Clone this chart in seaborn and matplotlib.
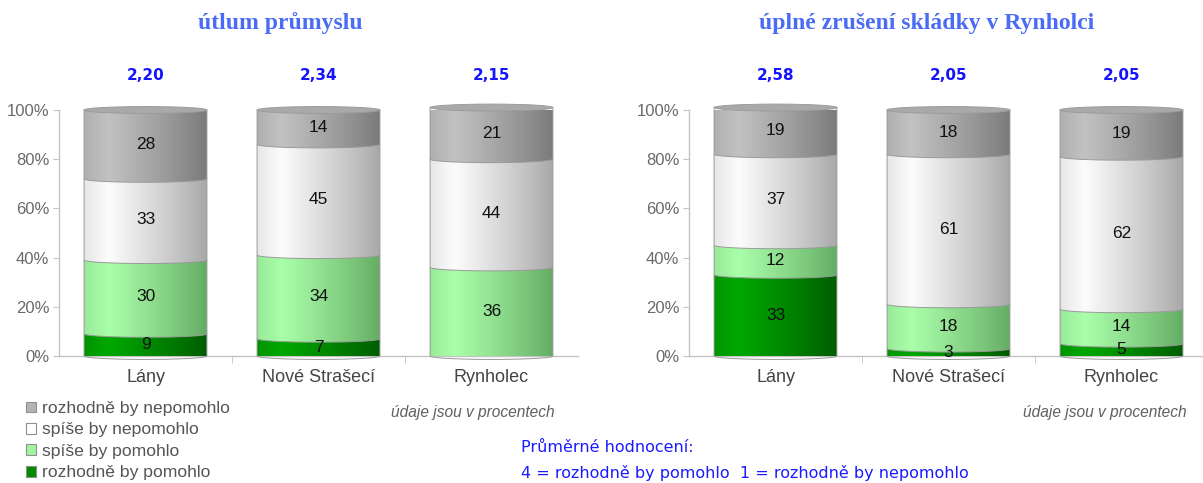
import numpy as np
import pandas as pd
import matplotlib
matplotlib.use("Agg")
import matplotlib.pyplot as plt
import matplotlib.colors as mcolors
from matplotlib.path import Path
from matplotlib.patches import PathPatch, Ellipse, Patch
import seaborn as sns

# ---------------- data ----------------
obce = ["Lány", "Nové Strašecí", "Rynholec"]
urovne = ["rozhodně by pomohlo", "spíše by pomohlo", "spíše by nepomohlo", "rozhodně by nepomohlo"]

utlum_rozhodne_pomohlo = [9, 7, 0]
utlum_spise_pomohlo = [30, 34, 36]
utlum_spise_nepomohlo = [33, 45, 44]
utlum_rozhodne_nepomohlo = [28, 14, 21]
utlum_prumer = ["2,20", "2,34", "2,15"]

skladka_rozhodne_pomohlo = [33, 3, 5]
skladka_spise_pomohlo = [12, 18, 14]
skladka_spise_nepomohlo = [37, 61, 62]
skladka_rozhodne_nepomohlo = [19, 18, 19]
skladka_prumer = ["2,58", "2,05", "2,05"]

titles = ["útlum průmyslu", "úplné zrušení skládky v Rynholci"]
y_ticks = [0, 20, 40, 60, 80, 100]
y_tick_labels = ["0%", "20%", "40%", "60%", "80%", "100%"]
note = "údaje jsou v procentech"
avg_title = "Průměrné hodnocení:"
avg_scale = "4 = rozhodně by pomohlo  1 = rozhodně by nepomohlo"

# ---------------- styles ----------------
sns.set_style("white")
plt.rcParams["font.family"] = ["Liberation Sans", "DejaVu Sans"]

flat_colors = ["#008c00", "#a0f5a0", "#ffffff", "#b4b4b4"]
grad_colors = [("#00a800", "#005c00"),
               ("#aaffaa", "#64ac64"),
               ("#fcfcfc", "#a8a8a8"),
               ("#c2c2c2", "#7a7a7a")]

W, H = 1203, 483
fig = plt.figure(figsize=(W / 100, H / 100), dpi=100)
ax1 = fig.add_axes([59 / W, 1 - 356 / H, 519 / W, 246 / H])
ax2 = fig.add_axes([689 / W, 1 - 356 / H, 519 / W, 246 / H])

E = 1.4  # half height of the cylinder ellipses (data units)


def gradient(light, dark):
    t = np.linspace(0, 1, 160)
    f = np.where(t < 0.2, 0.72 + 0.28 * t / 0.2, 1 - (t - 0.2) / 0.8)
    f = np.clip(f, 0, 1) ** 0.9
    l = np.array(mcolors.to_rgb(light))
    d = np.array(mcolors.to_rgb(dark))
    rgb = d[None, :] + f[:, None] * (l - d)[None, :]
    return rgb[None, :, :]


def segment_path(x0, x1, y0, y1):
    xc, r = (x0 + x1) / 2, (x1 - x0) / 2
    th = np.linspace(np.pi, 2 * np.pi, 40)
    arc = np.column_stack([xc + r * np.cos(th), y0 + E * np.sin(th)])
    verts = np.vstack([[[x0, y1], [x0, y0]], arc, [[x1, y1], [x0, y1]]])
    codes = [Path.MOVETO] + [Path.LINETO] * (len(verts) - 2) + [Path.CLOSEPOLY]
    return Path(verts, codes)


def draw_panel(ax, series, means):
    bottom = np.zeros(len(obce))
    for k, vals in enumerate(series):
        vals = np.array(vals, dtype=float)
        sns.barplot(x=obce, y=vals, bottom=bottom.copy(), order=obce,
                    color=flat_colors[k], width=0.71, linewidth=0, ax=ax)
        cont = ax.containers[-1]
        for bar, v in zip(cont, vals):
            bar.set_zorder(1)
            if v <= 0:
                continue
            x0 = bar.get_x()
            x1 = x0 + bar.get_width()
            y0 = bar.get_y()
            y1 = y0 + bar.get_height()
            pp = PathPatch(segment_path(x0, x1, y0, y1), facecolor="none",
                           edgecolor="#9a9a9a", lw=0.7, zorder=3 + k + 0.5)
            pp.set_clip_on(False)
            ax.add_patch(pp)
            im = ax.imshow(gradient(*grad_colors[k]), extent=(x0, x1, y0 - E, y1),
                           aspect="auto", interpolation="bilinear", origin="lower",
                           zorder=3 + k)
            im.set_clip_path(pp)
            im.set_clip_box(None)
            ax.text((x0 + x1) / 2, y0 + v / 2, f"{int(v)}", ha="center", va="center",
                    fontsize=12.5, color="#111111", zorder=20)
        bottom += vals
    # top caps
    for bar, top in zip(ax.containers[-1], bottom):
        xc = bar.get_x() + bar.get_width() / 2
        cap = Ellipse((xc, top), bar.get_width(), 2 * E, facecolor="#a9a9a9",
                      edgecolor="#9c9c9c", lw=0.7, zorder=12)
        cap.set_clip_on(False)
        ax.add_patch(cap)
    for i, m in enumerate(means):
        ax.text(i, 114.0, m, ha="center", va="center", fontsize=11,
                fontweight="bold", color="#1414ff", family="DejaVu Sans")

    ax.set_xlim(-0.5, 2.5)
    ax.set_ylim(0, 100)
    ax.set_yticks(y_ticks, y_tick_labels)
    ax.set_xticks(range(len(obce)), obce)
    ax.set_xticks([0.5, 1.5], minor=True)
    ax.tick_params(axis="y", which="major", length=4, color="#c4c4c4",
                   labelsize=12, labelcolor="#6a6a6a", pad=3, left=True)
    ax.tick_params(axis="x", which="major", length=0, labelsize=13,
                   labelcolor="#444444", pad=9)
    ax.tick_params(axis="x", which="minor", length=5, color="#c4c4c4", bottom=True)
    for s in ["top", "right"]:
        ax.spines[s].set_visible(False)
    for s in ["left", "bottom"]:
        ax.spines[s].set_color("#c4c4c4")
        ax.spines[s].set_linewidth(1)
    ax.set_xlabel("")
    ax.set_ylabel("")


draw_panel(ax1, [utlum_rozhodne_pomohlo, utlum_spise_pomohlo,
                 utlum_spise_nepomohlo, utlum_rozhodne_nepomohlo], utlum_prumer)
draw_panel(ax2, [skladka_rozhodne_pomohlo, skladka_spise_pomohlo,
                 skladka_spise_nepomohlo, skladka_rozhodne_nepomohlo], skladka_prumer)

# titles
for xc, t in zip([280, 927], titles):
    fig.text(xc / W, 1 - 23 / H, t, ha="center", va="center", fontsize=17,
             fontweight="bold", color="#4a6cf5", family="Liberation Serif")

# notes
for xr in [555, 1187]:
    fig.text(xr / W, 1 - 413 / H, note, ha="right", va="center", fontsize=11.2,
             style="italic", color="#606060")

fig.text(521 / W, 1 - 448 / H, avg_title, ha="left", va="center", fontsize=11.5,
         color="#1a1aff", family="DejaVu Sans")
fig.text(521 / W, 1 - 473 / H, avg_scale, ha="left", va="center", fontsize=11.5,
         color="#1a1aff", family="DejaVu Sans")

# legend
handles = [Patch(facecolor=flat_colors[k], edgecolor="#909090", lw=0.8) for k in [3, 2, 1, 0]]
labels = [urovne[k] for k in [3, 2, 1, 0]]
fig.legend(handles, labels, loc="upper left", bbox_to_anchor=(26 / W, 1 - 401 / H),
           frameon=False, fontsize=12.6, labelcolor="#555555", handlelength=0.55,
           handleheight=0.55, handletextpad=0.35, labelspacing=0.37, borderpad=0,
           borderaxespad=0)

fig.savefig("out.png", dpi=100)
